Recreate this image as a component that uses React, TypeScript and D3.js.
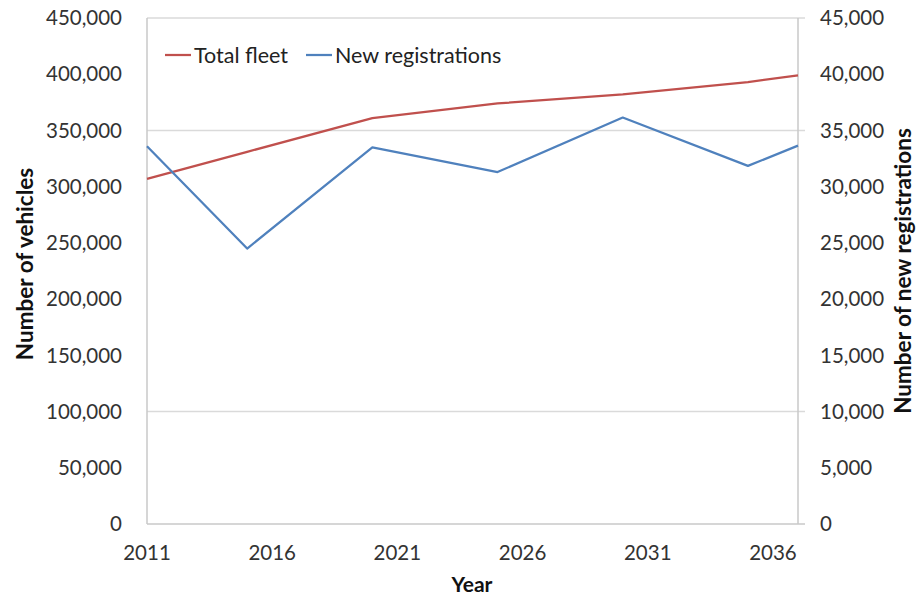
import { useEffect, useRef } from "react";
import * as d3 from "d3";

const years = [2011, 2015, 2020, 2025, 2030, 2035, 2037];
const totalFleet = [307000, 331000, 361000, 374000, 382000, 393000, 399000];
const newRegistrations = [33600, 24500, 33500, 31300, 36150, 31850, 33650];
const xTicks = [2011, 2016, 2021, 2026, 2031, 2036];
const leftTicks = [0, 50000, 100000, 150000, 200000, 250000, 300000, 350000, 400000, 450000];
const rightTicks = [0, 5000, 10000, 15000, 20000, 25000, 30000, 35000, 40000, 45000];
const gridValues = [100000, 350000, 450000];

function App() {
  const svgRef = useRef<SVGSVGElement>(null);

  useEffect(() => {
    if (!svgRef.current) return;
    const svg = d3.select(svgRef.current);
    svg.selectAll("*").remove();

    const width = 918;
    const height = 601;
    const left = 147;
    const right = 798;
    const top = 18;
    const bottom = 524;
    const font = "Lato, 'Open Sans', sans-serif";
    const axisColor = "#c8c8c8";

    const x = d3.scaleLinear().domain([2011, 2037]).range([left, right]);
    const yL = d3.scaleLinear().domain([0, 450000]).range([bottom, top]);
    const yR = d3.scaleLinear().domain([0, 45000]).range([bottom, top]);
    const fmt = d3.format(",");

    svg.append("rect").attr("width", width).attr("height", height).attr("fill", "white");

    // grid lines (only a few survive in the original)
    svg
      .selectAll(".grid")
      .data(gridValues)
      .enter()
      .append("line")
      .attr("x1", left)
      .attr("x2", right + 7)
      .attr("y1", (d) => yL(d))
      .attr("y2", (d) => yL(d))
      .attr("stroke", "#dadada")
      .attr("stroke-width", 1.5);

    // axis lines
    svg.append("line").attr("x1", left).attr("x2", left).attr("y1", top).attr("y2", bottom)
      .attr("stroke", axisColor).attr("stroke-width", 1.5);
    svg.append("line").attr("x1", right).attr("x2", right).attr("y1", top).attr("y2", bottom)
      .attr("stroke", axisColor).attr("stroke-width", 1.5);
    svg.append("line").attr("x1", left).attr("x2", right + 7).attr("y1", bottom).attr("y2", bottom)
      .attr("stroke", axisColor).attr("stroke-width", 1.5);

    // left tick labels
    svg
      .selectAll(".ltl")
      .data(leftTicks)
      .enter()
      .append("text")
      .attr("x", left - 25)
      .attr("y", (d) => yL(d))
      .attr("dy", "0.35em")
      .attr("text-anchor", "end")
      .style("font-family", font)
      .style("font-size", "20.5px")
      .style("fill", "#333")
      .text((d) => fmt(d));

    // right tick labels
    svg
      .selectAll(".rtl")
      .data(rightTicks)
      .enter()
      .append("text")
      .attr("x", right + 22)
      .attr("y", (d) => yR(d))
      .attr("dy", "0.35em")
      .attr("text-anchor", "start")
      .style("font-family", font)
      .style("font-size", "20.5px")
      .style("fill", "#333")
      .text((d) => fmt(d));

    // x tick labels
    svg
      .selectAll(".xtl")
      .data(xTicks)
      .enter()
      .append("text")
      .attr("x", (d) => x(d))
      .attr("y", 553)
      .attr("dy", "0.35em")
      .attr("text-anchor", "middle")
      .style("font-family", font)
      .style("font-size", "20.5px")
      .style("fill", "#333")
      .text((d) => String(d));

    // axis titles
    svg.append("text")
      .attr("x", 472)
      .attr("y", 585)
      .attr("dy", "0.35em")
      .attr("text-anchor", "middle")
      .style("font-family", font)
      .style("font-size", "21px")
      .style("font-weight", "700")
      .style("fill", "#111")
      .text("Year");

    svg.append("text")
      .attr("transform", "translate(25, 264) rotate(-90)")
      .attr("dy", "0.35em")
      .attr("text-anchor", "middle")
      .style("font-family", font)
      .style("font-size", "22.5px")
      .style("font-weight", "700")
      .style("fill", "#111")
      .text("Number of vehicles");

    svg.append("text")
      .attr("transform", "translate(903, 271) rotate(-90)")
      .attr("dy", "0.35em")
      .attr("text-anchor", "middle")
      .style("font-family", font)
      .style("font-size", "22.5px")
      .style("font-weight", "700")
      .style("fill", "#111")
      .text("Number of new registrations");

    // lines
    const fleetLine = d3
      .line<number>()
      .x((_, i) => x(years[i]))
      .y((d) => yL(d));
    const regLine = d3
      .line<number>()
      .x((_, i) => x(years[i]))
      .y((d) => yR(d));

    svg.append("path")
      .datum(totalFleet)
      .attr("d", fleetLine)
      .attr("fill", "none")
      .attr("stroke", "#c0504d")
      .attr("stroke-width", 2.25)
      .attr("stroke-linejoin", "round");

    svg.append("path")
      .datum(newRegistrations)
      .attr("d", regLine)
      .attr("fill", "none")
      .attr("stroke", "#4f81bd")
      .attr("stroke-width", 2.25)
      .attr("stroke-linejoin", "round");

    // legend
    const legendData = [
      { name: "Total fleet", color: "#c0504d", x: 165 },
      { name: "New registrations", color: "#4f81bd", x: 306 },
    ];
    const legend = svg
      .selectAll(".legend")
      .data(legendData)
      .enter()
      .append("g")
      .attr("transform", (d) => `translate(${d.x}, 55)`);
    legend.append("line")
      .attr("x1", 0)
      .attr("x2", 26)
      .attr("stroke", (d) => d.color)
      .attr("stroke-width", 2.25);
    legend.append("text")
      .attr("x", 29)
      .attr("dy", "0.35em")
      .style("font-family", font)
      .style("font-size", "21.5px")
      .style("fill", "#222")
      .text((d) => d.name);
  }, []);

  return (
    <div style={{ position: "absolute", left: 0, top: 0 }}>
      <svg ref={svgRef} width={918} height={601} style={{ display: "block" }} />
    </div>
  );
}

export default App;
